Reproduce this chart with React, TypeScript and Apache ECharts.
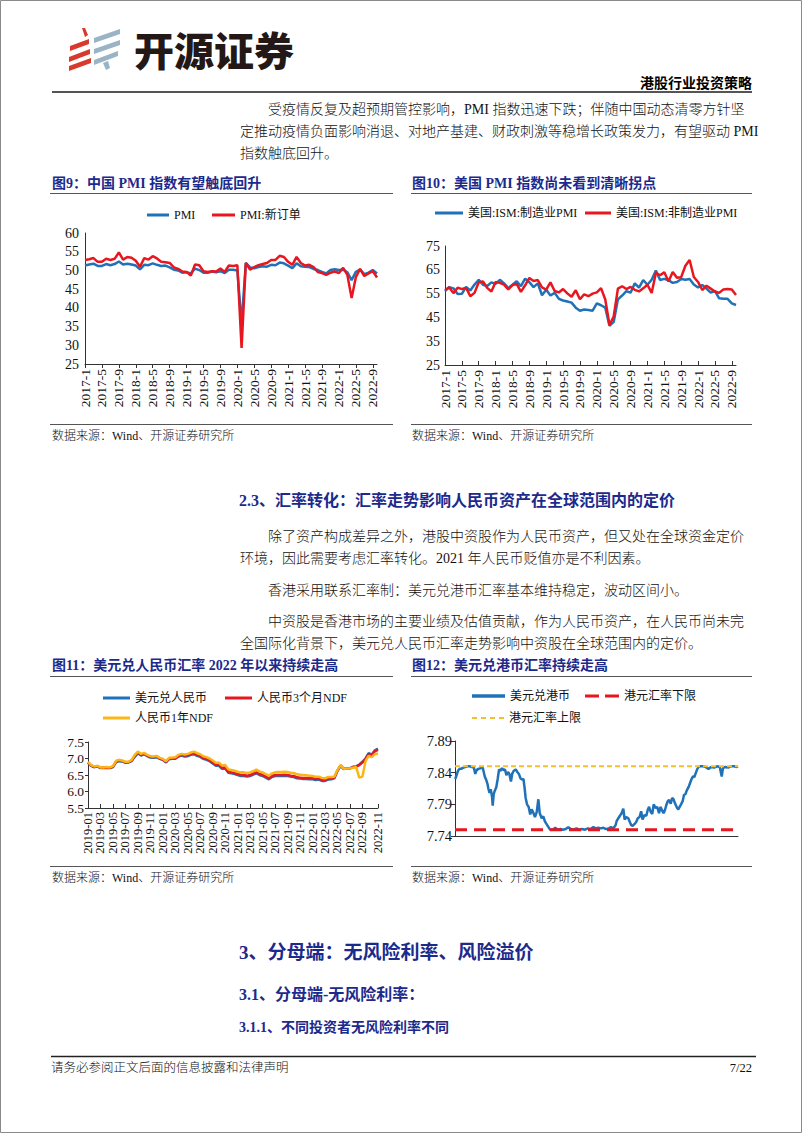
import React, { useEffect, useRef } from 'react';
import * as echarts from 'echarts';

const SERIF = "'Times New Roman', 'Liberation Serif', 'Noto Sans CJK SC', serif";
const SANS = "'Noto Sans CJK SC', 'Noto Sans', sans-serif";
const NAVY = '#1c2a8c';
const BLUE = '#1f72b8';
const RED = '#e8161e';
const ORANGE = '#fbb615';
const GOLD = '#f2c12e';
const INK = '#111';

// ---------- Fig 9: China PMI (2017-1 .. 2022-10)
const cnPmi = [
  51.3, 51.6, 51.8, 51.2, 51.2, 51.7, 51.4, 51.7, 52.4, 51.6, 51.8, 51.6,
  51.3, 50.3, 51.5, 51.4, 51.9, 51.5, 51.2, 51.3, 50.8, 50.2, 50.0, 49.4,
  49.5, 49.2, 50.5, 50.1, 49.4, 49.4, 49.7, 49.5, 49.8, 49.3, 50.2, 50.2,
  50.0, 35.7, 52.0, 50.8, 50.6, 50.9, 51.1, 51.0, 51.5, 51.4, 52.1, 51.9,
  51.3, 50.6, 51.9, 51.1, 51.0, 50.9, 50.4, 50.1, 49.6, 49.2, 50.1, 50.3,
  50.1, 50.2, 49.5, 47.4, 49.6, 50.2, 49.0, 49.4, 50.1, 49.2,
];
const cnNewOrders = [
  52.8, 53.0, 53.3, 52.3, 52.3, 53.1, 52.8, 53.1, 54.8, 52.9, 53.6, 53.4,
  52.6, 51.0, 53.3, 52.9, 53.8, 53.2, 52.3, 52.2, 52.0, 50.8, 50.4, 49.7,
  49.6, 48.6, 51.6, 51.4, 49.8, 49.6, 49.8, 49.7, 50.5, 49.6, 51.3, 51.2,
  51.4, 29.3, 52.0, 50.2, 50.9, 51.4, 51.7, 52.0, 52.8, 52.8, 53.9, 53.6,
  52.3, 51.5, 53.6, 52.0, 51.3, 51.5, 50.9, 49.6, 49.3, 48.8, 49.4, 49.7,
  49.3, 50.7, 48.8, 42.6, 48.2, 50.4, 48.5, 49.2, 49.8, 48.1,
];

// ---------- Fig 10: US ISM (2017-1 .. 2022-10)
const ismMfg = [
  56.0, 57.7, 57.2, 54.8, 54.9, 57.8, 56.3, 58.8, 60.8, 58.7, 58.2, 59.7,
  59.1, 60.8, 59.3, 57.3, 58.7, 60.2, 58.1, 61.3, 59.8, 57.7, 59.3, 54.3,
  56.6, 54.2, 55.3, 52.8, 52.1, 51.7, 51.2, 49.1, 47.8, 48.3, 48.1, 47.8,
  50.9, 50.1, 49.1, 41.5, 43.1, 52.6, 54.2, 56.0, 55.4, 59.3, 57.5, 60.7,
  58.7, 60.8, 64.7, 60.7, 61.2, 60.6, 59.5, 59.9, 61.1, 60.8, 61.1, 58.8,
  57.6, 58.6, 57.1, 55.4, 56.1, 53.0, 52.8, 52.8, 50.9, 50.2,
];
const ismNonMfg = [
  56.5, 57.6, 55.2, 57.5, 56.9, 57.4, 53.9, 55.3, 59.8, 60.1, 57.4, 55.9,
  59.9, 59.5, 58.8, 56.8, 58.6, 59.1, 55.7, 58.5, 61.6, 60.3, 60.7, 57.6,
  56.7, 59.7, 56.1, 55.5, 56.9, 55.1, 53.7, 56.4, 52.6, 54.7, 53.9, 55.0,
  55.5, 57.3, 52.5, 41.8, 45.4, 57.1, 58.1, 56.9, 57.8, 56.6, 55.9, 57.2,
  58.7, 55.3, 63.7, 62.7, 64.0, 60.1, 64.1, 61.7, 61.9, 66.7, 69.1, 62.0,
  59.9, 56.5, 58.3, 57.1, 55.9, 55.3, 56.7, 56.9, 56.7, 54.4,
];

// ---------- Fig 11: USD/CNY, semi-monthly (1st & 16th), 2019-01 .. 2022-11
const usdCny = [
  6.87, 6.78, 6.74, 6.76, 6.71, 6.71, 6.72, 6.71, 6.74, 6.89, 6.92, 6.91,
  6.87, 6.88, 6.92, 7.05, 7.16, 7.09, 7.13, 7.07, 7.03, 7.02, 7.04, 6.99,
  6.96, 6.88, 6.98, 6.99, 6.99, 7.06, 7.09, 7.06, 7.07, 7.11, 7.13, 7.08,
  7.05, 6.99, 6.96, 6.92, 6.85, 6.78, 6.78, 6.69, 6.70, 6.57, 6.55, 6.53,
  6.50, 6.47, 6.47, 6.45, 6.47, 6.51, 6.55, 6.50, 6.47, 6.42, 6.37, 6.44,
  6.47, 6.47, 6.47, 6.48, 6.47, 6.45, 6.44, 6.40, 6.39, 6.38, 6.38, 6.37,
  6.37, 6.35, 6.36, 6.32, 6.32, 6.36, 6.37, 6.40, 6.62, 6.78, 6.68, 6.70,
  6.70, 6.75, 6.76, 6.82, 6.90, 7.00, 7.16, 7.12, 7.25, 7.30,
];
const ndf3m = [
  6.88, 6.79, 6.74, 6.77, 6.72, 6.72, 6.73, 6.72, 6.75, 6.91, 6.94, 6.92,
  6.89, 6.89, 6.94, 7.08, 7.18, 7.11, 7.15, 7.09, 7.05, 7.04, 7.06, 7.00,
  6.97, 6.90, 7.00, 7.01, 7.01, 7.08, 7.11, 7.09, 7.10, 7.14, 7.16, 7.11,
  7.08, 7.02, 6.99, 6.95, 6.88, 6.81, 6.81, 6.72, 6.73, 6.60, 6.58, 6.56,
  6.53, 6.50, 6.50, 6.48, 6.50, 6.54, 6.58, 6.53, 6.50, 6.45, 6.40, 6.47,
  6.50, 6.50, 6.50, 6.51, 6.50, 6.48, 6.47, 6.43, 6.42, 6.41, 6.41, 6.40,
  6.40, 6.38, 6.39, 6.35, 6.35, 6.39, 6.40, 6.42, 6.64, 6.79, 6.69, 6.70,
  6.70, 6.74, 6.75, 6.80, 6.88, 6.98, 7.14, 7.10, 7.22, 7.26,
];
const ndf1y = [
  6.90, 6.80, 6.76, 6.78, 6.73, 6.73, 6.74, 6.73, 6.77, 6.93, 6.96, 6.94,
  6.90, 6.90, 6.96, 7.11, 7.21, 7.14, 7.17, 7.11, 7.07, 7.06, 7.08, 7.02,
  6.99, 6.92, 7.02, 7.03, 7.04, 7.11, 7.14, 7.12, 7.14, 7.18, 7.21, 7.16,
  7.13, 7.07, 7.04, 7.00, 6.94, 6.87, 6.87, 6.79, 6.80, 6.67, 6.65, 6.63,
  6.60, 6.58, 6.58, 6.56, 6.58, 6.62, 6.66, 6.61, 6.58, 6.53, 6.48, 6.55,
  6.58, 6.59, 6.59, 6.60, 6.59, 6.57, 6.56, 6.52, 6.51, 6.50, 6.49, 6.48,
  6.47, 6.45, 6.45, 6.41, 6.40, 6.44, 6.44, 6.45, 6.65, 6.80, 6.69, 6.70,
  6.70, 6.72, 6.74, 6.42, 6.45, 6.92, 7.08, 7.04, 7.13, 7.15,
];

// ---------- Fig 12: USD/HKD
const hkdDates = [
  '2019-01-02', '2019-01-09', '2019-01-16', '2019-01-24', '2019-02-01', '2019-02-12', '2019-02-22',
  '2019-03-04', '2019-03-14', '2019-03-25', '2019-04-03', '2019-04-10', '2019-04-17', '2019-04-26',
  '2019-05-06', '2019-05-16', '2019-05-27', '2019-06-04', '2019-06-10', '2019-06-14', '2019-06-20',
  '2019-06-26', '2019-07-02', '2019-07-05', '2019-07-10', '2019-07-16', '2019-07-23', '2019-07-30',
  '2019-08-06', '2019-08-13', '2019-08-21', '2019-08-29', '2019-09-05', '2019-09-12', '2019-09-20',
  '2019-09-27', '2019-10-04', '2019-10-10', '2019-10-18', '2019-10-28', '2019-11-05', '2019-11-13',
  '2019-11-21', '2019-11-29', '2019-12-05', '2019-12-11', '2019-12-16', '2019-12-23', '2019-12-31',
  '2020-01-08', '2020-01-15', '2020-01-22', '2020-02-01', '2020-02-10', '2020-02-18', '2020-02-25',
  '2020-03-04', '2020-03-12', '2020-03-19', '2020-03-26', '2020-04-03', '2020-04-15', '2020-04-28',
  '2020-05-10', '2020-05-22', '2020-06-05', '2020-06-18', '2020-07-01', '2020-07-14', '2020-07-27',
  '2020-08-10', '2020-08-24', '2020-09-07', '2020-09-21', '2020-10-05', '2020-10-19', '2020-11-02',
  '2020-11-16', '2020-11-30', '2020-12-10', '2020-12-22', '2021-01-05', '2021-01-18', '2021-02-01',
  '2021-02-12', '2021-02-24', '2021-03-04', '2021-03-10', '2021-03-18', '2021-03-26', '2021-04-02',
  '2021-04-12', '2021-04-19', '2021-04-27', '2021-05-06', '2021-05-14', '2021-05-21', '2021-05-28',
  '2021-06-07', '2021-06-15', '2021-06-23', '2021-07-01', '2021-07-09', '2021-07-16', '2021-07-26',
  '2021-08-04', '2021-08-11', '2021-08-18', '2021-08-26', '2021-09-03', '2021-09-10', '2021-09-20',
  '2021-09-28', '2021-10-06', '2021-10-14', '2021-10-22', '2021-10-29', '2021-11-05', '2021-11-12',
  '2021-11-19', '2021-11-26', '2021-12-03', '2021-12-10', '2021-12-17', '2021-12-24', '2022-01-03',
  '2022-01-10', '2022-01-17', '2022-01-24', '2022-02-01', '2022-02-08', '2022-02-15', '2022-02-22',
  '2022-03-01', '2022-03-08', '2022-03-15', '2022-03-22', '2022-03-29', '2022-04-06', '2022-04-13',
  '2022-04-20', '2022-04-27', '2022-05-10', '2022-05-24', '2022-06-07', '2022-06-21', '2022-07-05',
  '2022-07-19', '2022-08-02', '2022-08-12', '2022-08-18', '2022-08-30', '2022-09-13', '2022-09-27',
  '2022-10-11', '2022-10-25', '2022-11-01',
];
const hkdValues = [
  7.830, 7.836, 7.843, 7.846, 7.846, 7.848, 7.849,
  7.850, 7.850, 7.849, 7.848, 7.838, 7.844, 7.846,
  7.847, 7.849, 7.834, 7.828, 7.822, 7.815, 7.808,
  7.814, 7.801, 7.788, 7.806, 7.812, 7.817, 7.830,
  7.845, 7.843, 7.847, 7.844, 7.845, 7.836, 7.841,
  7.838, 7.826, 7.838, 7.843, 7.845, 7.841, 7.838,
  7.831, 7.829, 7.830, 7.815, 7.800, 7.790, 7.786,
  7.774, 7.782, 7.778, 7.770, 7.778, 7.798, 7.776,
  7.768, 7.771, 7.764, 7.760, 7.756, 7.750, 7.750,
  7.753, 7.750, 7.751, 7.750, 7.751, 7.754, 7.751,
  7.750, 7.752, 7.750, 7.751, 7.750, 7.752, 7.751,
  7.754, 7.752, 7.753, 7.752, 7.753, 7.751, 7.752,
  7.754, 7.752, 7.757, 7.764, 7.768, 7.772, 7.775,
  7.783, 7.766, 7.770, 7.768, 7.762, 7.757, 7.756,
  7.759, 7.762, 7.768, 7.770, 7.779, 7.766, 7.773,
  7.772, 7.781, 7.786, 7.778, 7.775, 7.790, 7.784,
  7.786, 7.776, 7.786, 7.780, 7.776, 7.781, 7.789,
  7.795, 7.797, 7.791, 7.800, 7.798, 7.792, 7.785,
  7.782, 7.786, 7.790, 7.795, 7.805, 7.806, 7.812,
  7.818, 7.824, 7.830, 7.834, 7.833, 7.840, 7.846,
  7.849, 7.850, 7.850, 7.849, 7.846, 7.849, 7.848,
  7.850, 7.849, 7.834, 7.847, 7.849, 7.848, 7.850,
  7.850, 7.849, 7.850,
];
const hkdLowerBand = 7.75;
const hkdUpperBand = 7.85;
const hkdTickLabels = ['2019-01', '2020-01', '2021-01', '2022-01'];

// ---------- axis categories
const pmiMonths: string[] = [];
for (let i = 0; i < cnPmi.length; i++) {
  pmiMonths.push(`${2017 + Math.floor(i / 12)}-${(i % 12) + 1}`);
}
const fxDates: string[] = [];
for (let y = 2019; y <= 2022; y++) {
  for (let m = 1; m <= 12; m++) {
    if (y === 2022 && m > 11) break;
    const mm = String(m).padStart(2, '0');
    fxDates.push(`${y}-${mm}-01`, `${y}-${mm}-16`);
  }
}
const toMonths = (d: string) => {
  const [y, m, day] = d.split('-').map(Number);
  return (y - 2019) * 12 + (m - 1) + (day - 1) / 31;
};
const hkdTickMonths = hkdTickLabels.map(toMonths);
const hkdEnd = toMonths('2022-11-01');

// ---------- page text
const para1 = [
  { t: '受疫情反复及超预期管控影响，PMI 指数迅速下跌；伴随中国动态清零方针坚', x: 268, y: 109 },
  { t: '定推动疫情负面影响消退、对地产基建、财政刺激等稳增长政策发力，有望驱动 PMI', x: 240, y: 131 },
  { t: '指数触底回升。', x: 240, y: 153 },
];
const para2 = [
  { t: '除了资产构成差异之外，港股中资股作为人民币资产，但又处在全球资金定价', x: 268, y: 536 },
  { t: '环境，因此需要考虑汇率转化。2021 年人民币贬值亦是不利因素。', x: 240, y: 558 },
  { t: '香港采用联系汇率制：美元兑港币汇率基本维持稳定，波动区间小。', x: 268, y: 590 },
  { t: '中资股是香港市场的主要业绩及估值贡献，作为人民币资产，在人民币尚未完', x: 268, y: 621 },
  { t: '全国际化背景下，美元兑人民币汇率走势影响中资股在全球范围内的定价。', x: 240, y: 643 },
];

type TOpts = { size?: number; color?: string; weight?: string | number; align?: string; family?: string };
const T = (text: string, x: number, y: number, o: TOpts = {}) => ({
  type: 'text',
  x,
  y,
  silent: true,
  style: {
    text,
    fill: o.color || INK,
    fontSize: o.size || 14,
    fontFamily: o.family || SERIF,
    fontWeight: o.weight || 'normal',
    textAlign: o.align || 'left',
    textVerticalAlign: 'middle',
    align: o.align || 'left',
    verticalAlign: 'middle',
  },
});
const L = (x1: number, y1: number, x2: number, y2: number, color = '#444', w = 1) => ({
  type: 'line',
  silent: true,
  shape: { x1, y1, x2, y2 },
  style: { stroke: color, lineWidth: w },
});
const P = (points: number[][], fill: string) => ({
  type: 'polygon',
  silent: true,
  shape: { points },
  style: { fill },
});

const legendTxt = { fontSize: 12, fontFamily: SERIF, color: INK, lineHeight: 12 };
const mkLegend = (name: string, left: number, centerY: number, w: number, h: number, icon = 'rect') => ({
  data: [{ name, icon }],
  left,
  top: centerY - 6,
  itemWidth: w,
  itemHeight: h,
  padding: 0,
  selectedMode: false,
  textStyle: legendTxt,
});
const redDashIcon = 'path://M0,0h14v3h-14zM20,0h14v3h-14z';
const goldDashIcon = 'path://M0,0h5v2h-5zM9,0h5v2h-5zM18,0h5v2h-5zM27,0h5v2h-5z';

const axisLbl = { fontSize: 13, fontFamily: SERIF, color: INK };
const axisLn = { show: true, lineStyle: { color: '#333', width: 1 } };

const lineSeries = (name: string, data: any[], color: string, xi: number, width = 2.5, dash?: number[]) => ({
  name,
  type: 'line',
  xAxisIndex: xi,
  yAxisIndex: xi,
  data,
  symbol: 'none',
  showSymbol: false,
  lineStyle: dash ? { color, width, type: dash } : { color, width },
  itemStyle: { color },
});

export default function App() {
  const ref = useRef<HTMLDivElement>(null);
  useEffect(() => {
    if (!ref.current) return;
    const chart = echarts.init(ref.current, null, { renderer: 'svg' });

    const graphics: any[] = [
      { type: 'rect', silent: true, shape: { x: 0.5, y: 0.5, width: 801, height: 1132 }, style: { fill: 'none', stroke: '#8a8a8a', lineWidth: 1 } },
      // logo
      P([[82, 28], [85, 28], [88, 35], [85, 37]], '#d8392c'),
      P([[70, 46], [89, 39], [89, 44], [70, 51]], '#d8392c'),
      P([[69, 57], [90, 49], [90, 54], [69, 62]], '#d8392c'),
      P([[69, 66], [91, 58], [91, 63], [69, 71]], '#d8392c'),
      P([[94, 38], [120, 29], [120, 34], [94, 43]], '#9ab4c6'),
      P([[94, 49], [120, 40], [120, 45], [94, 54]], '#9ab4c6'),
      P([[94, 60], [118, 51], [118, 56], [94, 65]], '#9ab4c6'),
      P([[103, 63], [108, 61], [110, 68], [106, 70]], '#9ab4c6'),
      T('开源证券', 134, 49, { size: 40, weight: 900, family: SANS, color: '#231815' }),
      T('港股行业投资策略', 752, 83, { size: 14, weight: 'bold', align: 'right', color: '#000' }),
      L(52, 92, 752, 92, '#555', 2),
      ...para1.map((p) => T(p.t, p.x, p.y, { size: 14, weight: 300 })),
      // fig titles
      T('图9：中国 PMI 指数有望触底回升', 52, 183, { size: 14, weight: 'bold', color: NAVY }),
      L(50, 193.5, 393, 193.5, '#555', 1),
      T('图10：美国 PMI 指数尚未看到清晰拐点', 412, 183, { size: 14, weight: 'bold', color: NAVY }),
      L(411, 193.5, 752, 193.5, '#555', 1),
      L(50, 424.5, 393, 424.5, '#555', 1),
      L(411, 424.5, 752, 424.5, '#555', 1),
      T('数据来源：Wind、开源证券研究所', 52, 436, { size: 12, weight: 300 }),
      T('数据来源：Wind、开源证券研究所', 412, 436, { size: 12, weight: 300 }),
      // section 2.3
      T('2.3、汇率转化：汇率走势影响人民币资产在全球范围内的定价', 239, 500, { size: 16, weight: 'bold', color: NAVY }),
      ...para2.map((p) => T(p.t, p.x, p.y, { size: 14, weight: 300 })),
      T('图11：美元兑人民币汇率 2022 年以来持续走高', 52, 665, { size: 14, weight: 'bold', color: NAVY }),
      L(50, 676.5, 393, 676.5, '#555', 1),
      T('图12：美元兑港币汇率持续走高', 412, 665, { size: 14, weight: 'bold', color: NAVY }),
      L(411, 676.5, 752, 676.5, '#555', 1),
      L(50, 866.5, 393, 866.5, '#555', 1),
      L(411, 866.5, 752, 866.5, '#555', 1),
      T('数据来源：Wind、开源证券研究所', 52, 878, { size: 12, weight: 300 }),
      T('数据来源：Wind、开源证券研究所', 412, 878, { size: 12, weight: 300 }),
      // section 3
      T('3、分母端：无风险利率、风险溢价', 239, 952, { size: 19, weight: 'bold', color: NAVY }),
      T('3.1、分母端-无风险利率：', 239, 994, { size: 16, weight: 'bold', color: NAVY }),
      T('3.1.1、不同投资者无风险利率不同', 239, 1027, { size: 14, weight: 'bold', color: NAVY }),
      L(51, 1056.5, 756, 1056.5, '#222', 1.5),
      T('请务必参阅正文后面的信息披露和法律声明', 51, 1068, { size: 12.5, weight: 300 }),
      T('7/22', 752, 1068, { size: 12.5, align: 'right' }),
    ];

    const option: any = {
      animation: false,
      backgroundColor: '#fff',
      textStyle: { fontFamily: SERIF },
      graphic: { elements: graphics },
      legend: [
        mkLegend('PMI', 147, 215, 22, 3),
        mkLegend('PMI:新订单', 212, 215, 23, 3),
        mkLegend('美国:ISM:制造业PMI', 435, 213, 28, 3),
        mkLegend('美国:ISM:非制造业PMI', 585, 213, 26, 3),
        mkLegend('美元兑人民币', 103, 698, 27, 3),
        mkLegend('人民币3个月NDF', 225, 698, 27, 3),
        mkLegend('人民币1年NDF', 103, 718, 27, 3),
        mkLegend('美元兑港币', 472, 696, 33, 3.5),
        mkLegend('港元汇率下限', 585, 696, 34, 3, redDashIcon),
        mkLegend('港元汇率上限', 472, 718, 32, 2, goldDashIcon),
      ],
      grid: [
        { left: 85, top: 233, width: 292, height: 131 },
        { left: 445, top: 246, width: 291, height: 119 },
        { left: 88, top: 742, width: 290, height: 66 },
        { left: 455, top: 741, width: 283, height: 95 },
      ],
      xAxis: [
        {
          gridIndex: 0, type: 'category', data: pmiMonths, boundaryGap: false,
          axisLine: axisLn,
          axisTick: { show: true, interval: 3, length: 4, lineStyle: { color: '#333' } },
          axisLabel: { ...axisLbl, fontSize: 13.5, rotate: 90, interval: 3, margin: 5 },
        },
        {
          gridIndex: 1, type: 'category', data: pmiMonths, boundaryGap: false,
          axisLine: axisLn,
          axisTick: { show: true, interval: 3, length: 4, inside: true, lineStyle: { color: '#333' } },
          axisLabel: { ...axisLbl, fontSize: 13.5, rotate: 90, interval: 3, margin: 5 },
        },
        {
          gridIndex: 2, type: 'category', data: fxDates, boundaryGap: false,
          axisLine: axisLn,
          axisTick: { show: true, interval: 3, length: 4, inside: true, lineStyle: { color: '#333' } },
          axisLabel: {
            ...axisLbl, fontSize: 12.5, rotate: 90, interval: 3, margin: 4,
            showMinLabel: true, showMaxLabel: true, hideOverlap: false,
            formatter: (v: string) => v.slice(0, 7),
          },
        },
        {
          gridIndex: 3, type: 'value', min: 0, max: hkdEnd,
          splitLine: { show: false },
          axisLine: axisLn,
          axisTick: { show: true, inside: true, length: 4, customValues: hkdTickMonths, lineStyle: { color: '#333' } },
          axisLabel: {
            ...axisLbl, fontSize: 13.5, margin: 9, customValues: hkdTickMonths,
            formatter: (v: number) => {
              const i = hkdTickMonths.findIndex((m) => Math.abs(m - v) < 0.01);
              return i >= 0 ? hkdTickLabels[i] : '';
            },
          },
        },
      ],
      yAxis: [
        {
          gridIndex: 0, type: 'value', min: 25, max: 60, interval: 5,
          splitLine: { show: false }, axisLine: axisLn, axisTick: { show: false },
          axisLabel: { ...axisLbl, fontSize: 14, margin: 6 },
        },
        {
          gridIndex: 1, type: 'value', min: 25, max: 75, interval: 10,
          splitLine: { show: false }, axisLine: axisLn, axisTick: { show: false },
          axisLabel: { ...axisLbl, fontSize: 14, margin: 5 },
        },
        {
          gridIndex: 2, type: 'value', min: 5.5, max: 7.5, interval: 0.5,
          splitLine: { show: false }, axisLine: axisLn,
          axisTick: { show: true, length: 3, lineStyle: { color: '#333' } },
          axisLabel: { ...axisLbl, fontSize: 13.5, margin: 4, formatter: (v: number) => v.toFixed(1) },
        },
        {
          gridIndex: 3, type: 'value', min: 7.74, max: 7.89, interval: 0.05,
          splitLine: { show: false }, axisLine: axisLn,
          axisTick: { show: true, length: 4, lineStyle: { color: '#333' } },
          axisLabel: { ...axisLbl, fontSize: 14.5, margin: 3, formatter: (v: number) => v.toFixed(2) },
        },
      ],
      series: [
        lineSeries('PMI', cnPmi, BLUE, 0, 2.5),
        lineSeries('PMI:新订单', cnNewOrders, RED, 0, 2.5),
        lineSeries('美国:ISM:制造业PMI', ismMfg, BLUE, 1, 2.5),
        lineSeries('美国:ISM:非制造业PMI', ismNonMfg, RED, 1, 2.5),
        lineSeries('美元兑人民币', usdCny, BLUE, 2, 2.5),
        lineSeries('人民币3个月NDF', ndf3m, RED, 2, 2.5),
        lineSeries('人民币1年NDF', ndf1y, ORANGE, 2, 2.5),
        lineSeries('美元兑港币', hkdDates.map((d, i) => [toMonths(d), hkdValues[i]]), BLUE, 3, 2.5),
        lineSeries('港元汇率下限', [[0, hkdLowerBand], [hkdEnd, hkdLowerBand]], RED, 3, 3, [12, 7]),
        lineSeries('港元汇率上限', [[0, hkdUpperBand], [hkdEnd, hkdUpperBand]], GOLD, 3, 2, [5, 3]),
      ],
    };
    chart.setOption(option);
    return () => chart.dispose();
  }, []);
  return (
    <div
      ref={ref}
      style={{ position: 'absolute', left: 0, top: 0, width: 802, height: 1133, background: '#fff' }}
    />
  );
}
